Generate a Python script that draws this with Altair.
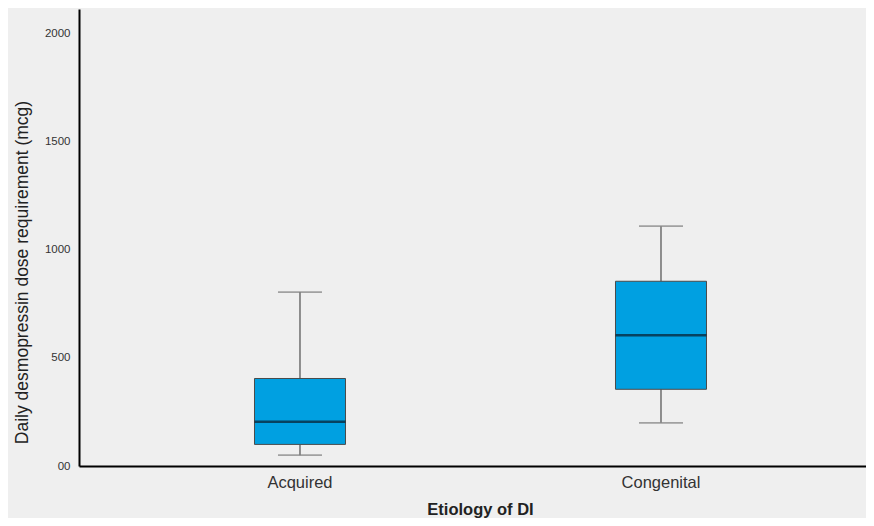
import altair as alt
import pandas as pd

categories = ["Acquired", "Congenital"]
lower_whisker = [50, 200]
q1 = [100, 355]
median = [205, 605]
q3 = [405, 855]
upper_whisker = [805, 1110]
y_ticks = [0, 500, 1000, 1500, 2000]

df = pd.DataFrame({
    "etiology": categories,
    "low": lower_whisker,
    "q1": q1,
    "median": median,
    "q3": q3,
    "high": upper_whisker,
})

FONT = "Liberation Sans"

x_enc = alt.X(
    "etiology:N",
    sort=categories,
    scale=alt.Scale(paddingInner=0, paddingOuter=0.09, align=0.623),
    axis=alt.Axis(
        title="Etiology of DI",
        labelAngle=0,
        labelFontSize=16.5,
        labelColor="#333333",
        labelFont=FONT,
        labelPadding=8,
        ticks=False,
        domainColor="#000000",
        domainWidth=2,
        titleFont=FONT,
        titleFontSize=16.5,
        titleFontWeight=600,
        titleColor="#222222",
        titlePadding=11,
        titleX=401,
    ),
)

y_scale = alt.Scale(domain=[0, 2115], nice=False, zero=True)

base = alt.Chart(df).encode(x=x_enc)

whisker_low = base.mark_rule(color="#6e6e6e", strokeWidth=1.5).encode(
    y=alt.Y(
        "low:Q",
        scale=y_scale,
        axis=alt.Axis(
            title="Daily desmopressin dose requirement (mcg)",
            values=y_ticks,
            labelExpr="datum.value == 0 ? '00' : format(datum.value, 'd')",
            labelFontSize=11.5,
            labelColor="#333333",
            labelFont=FONT,
            labelPadding=9,
            ticks=False,
            grid=False,
            domainColor="#000000",
            domainWidth=2,
            titleFont=FONT,
            titleFontSize=17.5,
            titleFontWeight=500,
            titleColor="#222222",
            titlePadding=13,
            titleY=263,
        ),
    ),
    y2="q1:Q",
)
whisker_high = base.mark_rule(color="#6e6e6e", strokeWidth=1.5).encode(
    y=alt.Y("q3:Q", scale=y_scale), y2="high:Q"
)
cap_low = base.mark_tick(color="#808080", size=44, thickness=1.8).encode(
    y=alt.Y("low:Q", scale=y_scale)
)
cap_high = base.mark_tick(color="#808080", size=44, thickness=1.8).encode(
    y=alt.Y("high:Q", scale=y_scale)
)
box = base.mark_bar(size=91, color="#00a0e1", stroke="#4a4a4a", strokeWidth=1).encode(
    y=alt.Y("q1:Q", scale=y_scale), y2="q3:Q"
)
med = base.mark_tick(color="#0a1a28", size=91, thickness=2.5).encode(
    y=alt.Y("median:Q", scale=y_scale)
)

chart = (
    alt.layer(whisker_low, whisker_high, cap_low, cap_high, box, med)
    .properties(
        width=787,
        height=457,
        autosize=alt.AutoSizeParams(type="none"),
        padding={"left": 71, "top": 1, "right": 0, "bottom": 52},
        background="#efefef",
    )
    .configure_view(stroke=None)
)

chart.save("out.html", embed_options={"renderer": "svg", "actions": False})
